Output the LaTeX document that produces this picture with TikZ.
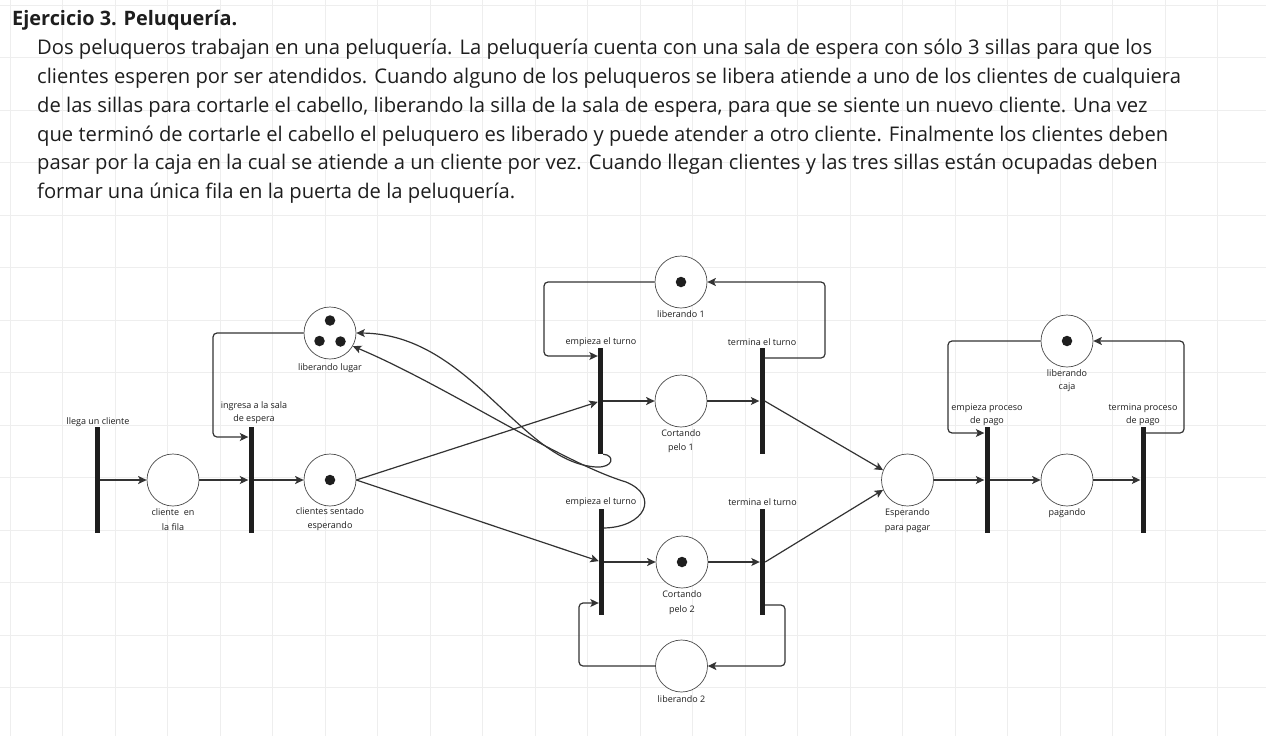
\documentclass[tikz,border=0pt]{standalone}
\usepackage{fontspec}
\setmainfont{Open Sans}
\usetikzlibrary{arrows.meta,calc}
\definecolor{ink}{HTML}{1E1E1E}
\definecolor{edgec}{HTML}{333333}
\definecolor{gridc}{HTML}{EEEEEE}
\newlength\LwA
\newlength\LwB
\begin{document}%
\settowidth\LwA{\fontsize{10pt}{12pt}\selectfont Dos peluqueros trabajan en una peluquería. La peluquería cuenta con una sala de espera con sólo 3 sillas para que los}%
\pgfmathsetmacro\bsz{10*1115/\LwA}%
\settowidth\LwB{\fontsize{10pt}{12pt}\selectfont\bfseries Ejercicio 3. Peluquería.}%
\pgfmathsetmacro\tsz{10*225/\LwB}%
\begin{tikzpicture}[x=1pt,y=-1pt]
\tikzset{
 place/.style={circle, draw=black!70, line width=0.7pt, fill=white, minimum size=52pt, inner sep=0},
 trans/.style={rectangle, fill=ink, draw=none, minimum width=5pt, minimum height=106pt, inner sep=0},
 tok/.style={circle, fill=ink, draw=none, minimum size=10.5pt, inner sep=0},
 lbl/.style={font=\fontsize{9}{12.7}\selectfont, text=ink, align=center, inner sep=0},
 plbl/.style={lbl, font=\fontsize{9}{14.5}\selectfont},
 flow/.style={draw=edgec, line width=1.2pt, -{Stealth[length=8.5pt,width=8pt,inset=2pt]}},
 loopflow/.style={flow, rounded corners=4pt},
 body/.style={anchor=base west, inner sep=0, text=ink},
}
\useasboundingbox (0,0) rectangle (1266,736);
\fill[white] (0,0) rectangle (1266,736);
% background grid
\foreach \i in {0,...,24} \draw[gridc, line width=0.8pt] (10.2+52.5*\i,0) -- (10.2+52.5*\i,736);
\foreach \j in {0,...,14} \draw[gridc, line width=0.8pt] (0,5+52.5*\j) -- (1266,5+52.5*\j);

% text
\node[body, font=\fontsize{\tsz pt}{20pt}\selectfont\bfseries] (title) at (12,25) {Ejercicio 3. Peluquería.};
\node[body, font=\fontsize{\bsz pt}{20pt}\selectfont] (b1) at (37,54.3) {Dos peluqueros trabajan en una peluquería. La peluquería cuenta con una sala de espera con sólo 3 sillas para que los};
\node[body, font=\fontsize{\bsz pt}{20pt}\selectfont] (b2) at (37,83.2) {clientes esperen por ser atendidos. Cuando alguno de los peluqueros se libera atiende a uno de los clientes de cualquiera};
\node[body, font=\fontsize{\bsz pt}{20pt}\selectfont] (b3) at (37,112.1) {de las sillas para cortarle el cabello, liberando la silla de la sala de espera, para que se siente un nuevo cliente. Una vez};
\node[body, font=\fontsize{\bsz pt}{20pt}\selectfont] (b4) at (37,141) {que terminó de cortarle el cabello el peluquero es liberado y puede atender a otro cliente. Finalmente los clientes deben};
\node[body, font=\fontsize{\bsz pt}{20pt}\selectfont] (b5) at (37,169.9) {pasar por la caja en la cual se atiende a un cliente por vez. Cuando llegan clientes y las tres sillas están ocupadas deben};
\node[body, font=\fontsize{\bsz pt}{20pt}\selectfont] (b6) at (37,198.8) {formar una única fila en la puerta de la peluquería.};

% places
\node[place] (p1) at (173,480) {};
\node[place] (p2) at (330,480) {};
\node[place] (p3) at (330,333) {};
\node[place] (p4) at (681,282) {};
\node[place] (p5) at (681,401) {};
\node[place] (p7) at (682,562) {};
\node[place] (p8) at (681.5,666) {};
\node[place] (p6) at (907.5,480) {};
\node[place] (p9) at (1067,480) {};
\node[place] (p10) at (1067,341) {};

% tokens
\node[tok] (tokA) at (330,480) {};
\node[tok] (tokB) at (330,320.5) {};
\node[tok] (tokC) at (319.5,341) {};
\node[tok] (tokD) at (340.5,341.5) {};
\node[tok] (tokE) at (681,282) {};
\node[tok] (tokF) at (682,562) {};
\node[tok] (tokG) at (1067,341) {};

% transitions
\node[trans] (t1) at (97,480) {};
\node[trans] (t2) at (251,480) {};
\node[trans] (t3) at (600.5,401) {};
\node[trans] (t4) at (762,401) {};
\node[trans] (t5) at (601.5,562) {};
\node[trans] (t6) at (762.5,562) {};
\node[trans] (t7) at (987,480) {};
\node[trans] (t8) at (1143,480) {};

% labels
\node[lbl] (l1) at (98,422) {llega un cliente};
\node[plbl] (lp1) at (173,519.5) {cliente\ \ en\\la fila};
\node[lbl] (lt2) at (254,413) {ingresa a la sala\\de espera};
\node[plbl] (lp2) at (330,519) {clientes sentado\\esperando};
\node[lbl] (lp3) at (330,368) {liberando lugar};
\node[lbl] (lp4) at (681,314.5) {liberando 1};
\node[lbl] (lt3) at (601,342) {empieza el turno};
\node[plbl] (lp5) at (681,441) {Cortando\\pelo 1};
\node[lbl] (lt4) at (762,342) {termina el turno};
\node[lbl] (lt5) at (601,502) {empieza el turno};
\node[lbl] (lt6) at (762.5,502.5) {termina el turno};
\node[plbl] (lp7) at (682,602.5) {Cortando\\pelo 2};
\node[lbl] (lp8) at (681.5,699) {liberando 2};
\node[plbl] (lp6) at (907.5,520.5) {Esperando\\para pagar};
\node[lbl] (lt7) at (987,414.5) {empieza proceso\\de pago};
\node[lbl] (lp9) at (1067,513.5) {pagando};
\node[lbl] (lt8) at (1143,414.5) {termina proceso\\de pago};
\node[lbl] (lp10) at (1067,380.5) {liberando\\caja};

% bend coordinates
\coordinate (c1) at (213,437);
\coordinate (c2) at (544,356);
\coordinate (c3) at (825,358);
\coordinate (c4) at (785,605);
\coordinate (c5) at (579,603);
\coordinate (c6) at (948,433);
\coordinate (c7) at (1184,433);
\coordinate (cb) at (604,528);

% straight arcs
\draw[flow] (t1) -- (p1);
\draw[flow] (p1) -- (t2);
\draw[flow] (t2) -- (p2);
\draw[flow] (p2.east) -- (t3);
\draw[flow] (p2.east) -- (t5);
\draw[flow] (t3) -- (p5);
\draw[flow] (p5) -- (t4);
\draw[flow] (t5) -- (p7);
\draw[flow] (p7) -- (t6);
\draw[flow] (t4.east) -- (p6.158);
\draw[flow] (t6.east) -- (p6.202);
\draw[flow] (p6) -- (t7);
\draw[flow] (t7) -- (p9);
\draw[flow] (p9) -- (t8);

% loops
\draw[loopflow] (p3.west) -| (c1) -- (t2.west |- c1);
\draw[loopflow] (p4.west) -| (c2) -- (t3.west |- c2);
\draw[loopflow] (t4.east |- c3) -- (c3) |- (p4.east);
\draw[loopflow] (t6.east |- c4) -- (c4) |- (p8.east);
\draw[loopflow] (p8.west) -| (c5) -- (t5.west |- c5);
\draw[loopflow] (p10.west) -| (c6) -- (t7.west |- c6);
\draw[loopflow] (t8.east |- c7) -- (c7) |- (p10.east);

% curved arcs back to liberando lugar
\draw[flow] (t3.south east) .. controls (615,455) and (614,468) .. (596,467) .. controls (520,462) and (470,334) .. (p3.east);
\draw[flow] (t5.east |- cb) .. controls (645,527) and (660,496) .. (626,482) .. controls (560,462) and (445,385) .. (p3.330);
\end{tikzpicture}
\end{document}
